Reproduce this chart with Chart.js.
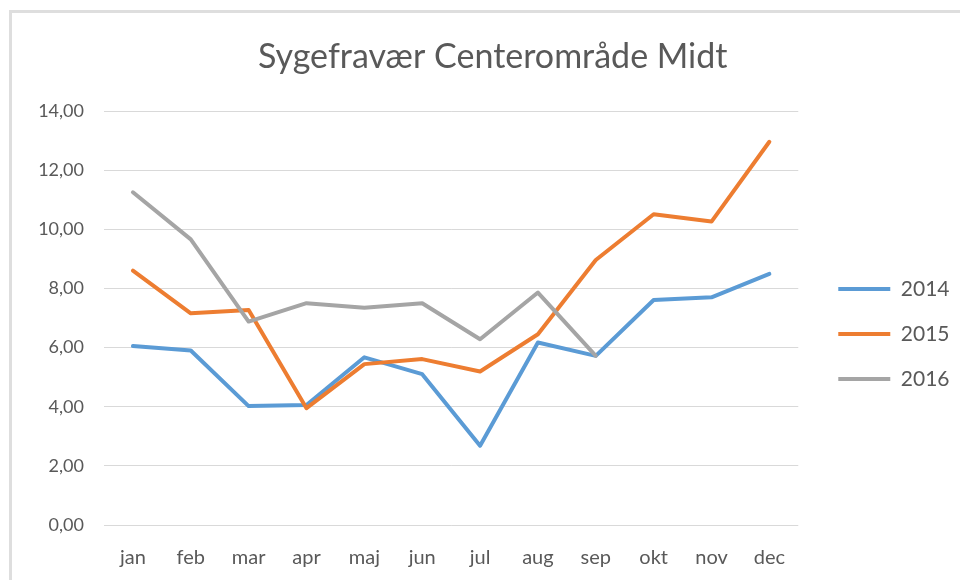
<!DOCTYPE html>
<html lang="da">
<head>
<meta charset="utf-8">
<title>Sygefravær Centerområde Midt</title>
<script src="https://cdn.jsdelivr.net/npm/chart.js@4/dist/chart.umd.min.js"></script>
<style>
  html, body { margin: 0; padding: 0; background: #fff; }
  #wrap { position: relative; width: 960px; height: 580px; overflow: hidden; }
  #frame {
    position: absolute; left: 9px; top: 10px; width: 1000px; height: 600px;
    border-left: 3px solid #dedede; border-top: 3px solid #dedede;
    pointer-events: none;
  }
  #chart { position: absolute; left: 0; top: 0; }
</style>
</head>
<body>
<div id="wrap">
  <canvas id="chart" width="960" height="580"></canvas>
  <div id="frame"></div>
</div>
<script>
// data
const maaneder = ['jan', 'feb', 'mar', 'apr', 'maj', 'jun', 'jul', 'aug', 'sep', 'okt', 'nov', 'dec'];
const aar = ['2014', '2015', '2016'];
const fravaer2014 = [6.05, 5.90, 4.02, 4.06, 5.67, 5.10, 2.68, 6.17, 5.72, 7.61, 7.70, 8.49];
const fravaer2015 = [8.60, 7.16, 7.27, 3.95, 5.44, 5.61, 5.19, 6.45, 8.96, 10.51, 10.26, 12.96];
const fravaer2016 = [11.25, 9.66, 6.88, 7.50, 7.35, 7.50, 6.28, 7.86, 5.72];
const yTicks = ['0,00', '2,00', '4,00', '6,00', '8,00', '10,00', '12,00', '14,00'];

const farver = ['#5b9bd5', '#ed7d31', '#a5a5a5'];
const tekstFarve = '#595959';
const skrift = 'Lato, "Open Sans", sans-serif';

function serie(label, data, farve, order) {
  return {
    label: label,
    data: data,
    borderColor: farve,
    backgroundColor: farve,
    borderWidth: 4,
    borderCapStyle: 'round',
    borderJoinStyle: 'round',
    pointRadius: 0,
    pointHoverRadius: 0,
    tension: 0,
    fill: false,
    order: order
  };
}

new Chart(document.getElementById('chart').getContext('2d'), {
  type: 'line',
  data: {
    labels: maaneder,
    datasets: [
      serie(aar[0], fravaer2014, farver[0], 2),
      serie(aar[1], fravaer2015, farver[1], 1),
      serie(aar[2], fravaer2016, farver[2], 0)
    ]
  },
  options: {
    responsive: false,
    animation: false,
    layout: { padding: { left: 26, right: 0.5, top: 0, bottom: 0 } },
    plugins: {
      tooltip: { enabled: false },
      title: {
        display: true,
        text: 'Sygefravær Centerområde Midt',
        color: tekstFarve,
        font: { family: skrift, size: 34, weight: 'normal', lineHeight: 1.2 },
        padding: { top: 36.6, bottom: 33.6 }
      },
      legend: {
        position: 'right',
        fullSize: false,
        title: { display: true, text: ' ', font: { size: 1, lineHeight: 1 }, padding: { top: 31, bottom: 0 } },
        labels: {
          usePointStyle: true,
          pointStyle: 'line',
          pointStyleWidth: 52,
          boxHeight: 21,
          padding: 24,
          color: tekstFarve,
          font: { family: skrift, size: 21 },
          sort: (a, b) => a.datasetIndex - b.datasetIndex
        }
      }
    },
    scales: {
      x: {
        offset: true,
        grid: { display: false, drawTicks: false },
        border: { display: false },
        ticks: { color: tekstFarve, font: { family: skrift, size: 20 }, padding: 21, maxRotation: 0 },
        afterFit: s => { s.height = 55; }
      },
      y: {
        min: 0,
        max: 14,
        grid: { color: '#d9d9d9', lineWidth: 1, drawTicks: false },
        border: { display: false },
        ticks: {
          stepSize: 2,
          color: tekstFarve,
          font: { family: skrift, size: 18 },
          padding: 20,
          callback: (v, i) => yTicks[i]
        },
        afterFit: s => { s.width = 78; }
      },
      luft: {
        position: 'right',
        grid: { display: false, drawTicks: false },
        border: { display: false },
        ticks: { display: false },
        afterFit: s => { s.width = 16; }
      }
    }
  }
});
</script>
</body>
</html>
